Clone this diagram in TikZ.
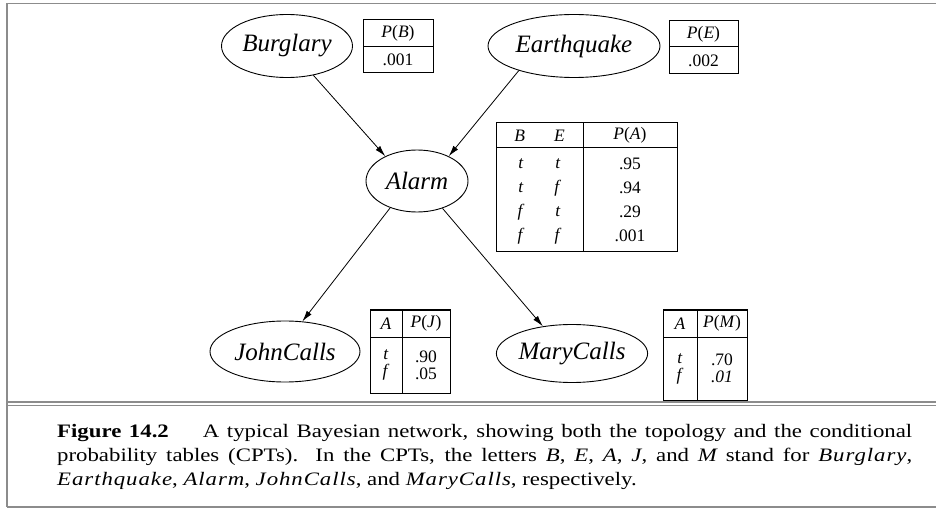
\documentclass[tikz,border=0pt]{standalone}
\usepackage{fontspec}
\setmainfont{Liberation Serif}
\newfontfamily\capfont{Liberation Serif}[FakeStretch=1.2]
\newfontfamily\capmath{Liberation Serif}[FakeStretch=1.2, LetterSpace=5]
\usetikzlibrary{shapes.geometric,arrows.meta}
\newcommand{\mv}[1]{\textit{#1}}
\newcommand{\cv}[1]{{\capmath\itshape #1}}

\begin{document}
\begin{tikzpicture}[x=1pt,y=-1pt]
	\tikzset{var/.style={ellipse, draw=black, line width=0.9pt, inner sep=0pt, font=\fontsize{25}{28}\selectfont\itshape},
		cell/.style={rectangle, draw=black, line width=1pt, inner sep=0pt, align=center, font=\fontsize{17.5}{24}\selectfont},
		arc/.style={-{Latex[length=11pt,width=6pt]}, line width=0.8pt},
		rule/.style={draw=black!45, line width=1.6pt}};

	\useasboundingbox (0,0) rectangle (936,510);

	% frame
	\draw[rule] (7,3.5) -- (936,3.5);
	\draw[rule] (7,3.5) -- (7,507);
	\draw[rule] (7,507) -- (936,507);
	\draw[rule] (7,402) -- (936,402);
	\draw[rule] (7,405.5) -- (936,405.5);

	% variables
	\node[var, minimum width=131, minimum height=63] (burglary)   at (287,   46) {Burglary};
	\node[var, minimum width=172, minimum height=63] (earthquake) at (574,   46) {Earthquake};
	\node[var, minimum width=102, minimum height=62] (alarm)      at (417,  181) {Alarm};
	\node[var, minimum width=150, minimum height=61] (john)       at (285,  351.5) {JohnCalls};
	\node[var, minimum width=150, minimum height=58] (mary)       at (572,  353.5) {MaryCalls};

	% CPTs
	\node[cell, minimum width=70, minimum height=27] (pbH) at (398,   33.5) {\mv{P}(\mv{B})};
	\node[cell, minimum width=70, minimum height=26] (pbB) at (398,   60) {.001};
	\node[cell, minimum width=69, minimum height=26] (peH) at (703.5, 34) {\mv{P}(\mv{E})};
	\node[cell, minimum width=69, minimum height=27] (peB) at (703.5, 60.5) {.002};

	\node[cell, minimum width=87, minimum height=25]  (paHL) at (539.5, 135.5) {\mv{B}\hspace{29pt}\mv{E}};
	\node[cell, minimum width=94, minimum height=25]  (paHR) at (630,   135.5) {\mv{P}(\mv{A})};
	\node[cell, minimum width=87, minimum height=104] (paBL) at (539.5, 200)
		{\begin{tabular}{@{}c@{\hspace{30pt}}c@{}}\mv{t} & \mv{t}\\ \mv{t} & \mv{f}\\ \mv{f} & \mv{t}\\ \mv{f} & \mv{f}\end{tabular}};
	\node[cell, minimum width=94, minimum height=104] (paBR) at (630,   200) {.95\\ .94\\ .29\\ .001};

	\node[cell, minimum width=32, minimum height=27] (pjHL) at (386, 323.5) {\mv{A}};
	\node[cell, minimum width=48, minimum height=27] (pjHR) at (426, 323.5) {\mv{P}(\mv{J})};
	\node[cell, minimum width=32, minimum height=56, font=\fontsize{17.5}{17}\selectfont] (pjBL) at (386, 365) {\mv{t}\\ \mv{f}};
	\node[cell, minimum width=48, minimum height=56, font=\fontsize{17.5}{17}\selectfont] (pjBR) at (426, 365) {.90\\ .05};

	\node[cell, minimum width=34, minimum height=27] (pmHL) at (680, 323.5) {\mv{A}};
	\node[cell, minimum width=50, minimum height=27] (pmHR) at (722, 323.5) {\mv{P}(\mv{M})};
	\node[cell, minimum width=34, minimum height=63, font=\fontsize{17.5}{17}\selectfont] (pmBL) at (680, 368.5) {\mv{t}\\ \mv{f}};
	\node[cell, minimum width=50, minimum height=63, font=\fontsize{17.5}{17}\selectfont] (pmBR) at (722, 368.5) {.70\\ \mv{.01}};

	% arcs
	\draw[arc] (burglary.312)   -- (alarm.142);
	\draw[arc] (earthquake.204) -- (alarm.38);
	\draw[arc] (alarm.225)      -- (john.60);
	\draw[arc] (alarm.313)      -- (mary.137);

	% caption
	\node[anchor=north west, inner sep=0pt, text width=855pt, align=justify, font=\capfont\fontsize{19}{24}\selectfont] (caption) at (57, 424)
		{\textbf{Figure 14.2}\hspace{34pt}A typical Bayesian network, showing both the topology and the conditional\linebreak
		probability tables (CPTs). In the CPTs, the letters \cv{B}, \cv{E}, \cv{A}, \cv{J}, and \cv{M} stand for \cv{Burglary},\linebreak
		\cv{Earthquake}, \cv{Alarm}, \cv{JohnCalls}, and \cv{MaryCalls}, respectively.};
\end{tikzpicture}
\end{document}
